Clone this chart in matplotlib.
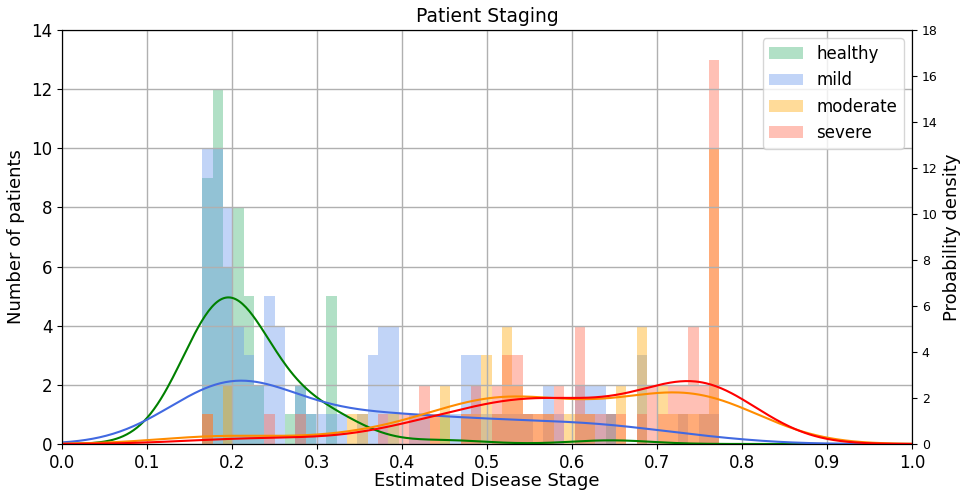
import numpy as np
import matplotlib
matplotlib.use("Agg")
import matplotlib.pyplot as plt

# ---- data (counts per histogram bin, 50 equal bins over the data range) ----
stage_range = [0.165, 0.7733]
categories = ["healthy", "mild", "moderate", "severe"]
healthy_counts = [9, 12, 6, 8, 5, 2, 0, 0, 1, 2, 1, 0, 5, 0, 0, 0, 0, 0, 0, 0,
                  0, 0, 0, 1, 0, 0, 0, 0, 0, 0, 0, 0, 0, 0, 0, 0, 0, 0, 0, 1,
                  0, 0, 0, 0, 0, 0, 0, 0, 0, 0]
mild_counts = [10, 10, 8, 4, 3, 2, 5, 4, 0, 2, 1, 1, 1, 1, 0, 1, 3, 4, 4, 0,
               1, 1, 0, 0, 1, 3, 3, 1, 1, 1, 1, 1, 0, 2, 1, 0, 2, 2, 2, 1,
               0, 0, 3, 0, 0, 0, 1, 0, 1, 1]
moderate_counts = [1, 0, 2, 0, 0, 0, 0, 0, 0, 0, 0, 0, 0, 0, 1, 1, 0, 0, 1, 0,
                   0, 0, 1, 2, 0, 1, 1, 3, 1, 4, 2, 1, 1, 1, 0, 1, 1, 1, 0, 0,
                   2, 0, 4, 0, 2, 1, 1, 1, 1, 10]
severe_counts = [1, 0, 0, 0, 0, 0, 1, 0, 0, 1, 0, 0, 0, 0, 0, 0, 0, 1, 0, 1,
                 1, 2, 1, 0, 0, 1, 2, 0, 2, 3, 3, 1, 1, 1, 2, 0, 4, 1, 1, 1,
                 1, 0, 1, 2, 1, 2, 2, 4, 2, 13]
kde_bw_adjust = [1.3, 1.0, 1.0, 1.0]
hist_colors = ["mediumseagreen", "cornflowerblue", "orange", "tomato"]
kde_colors = ["green", "royalblue", "darkorange", "red"]
x_ticks = [0.0, 0.1, 0.2, 0.3, 0.4, 0.5, 0.6, 0.7, 0.8, 0.9, 1.0]
left_ticks = [0, 2, 4, 6, 8, 10, 12, 14]
right_ticks = [0, 2, 4, 6, 8, 10, 12, 14, 16, 18]

all_counts = [healthy_counts, mild_counts, moderate_counts, severe_counts]
n_bins = len(healthy_counts)
edges = np.linspace(stage_range[0], stage_range[1], n_bins + 1)
centers = 0.5 * (edges[:-1] + edges[1:])
samples = [np.repeat(centers, c) for c in all_counts]


def gaussian_kde(data, grid, adjust=1.0):
    n = len(data)
    h = adjust * np.std(data, ddof=1) * n ** (-1.0 / 5.0)
    z = (grid[:, None] - data[None, :]) / h
    return np.exp(-0.5 * z ** 2).sum(axis=1) / (n * h * np.sqrt(2 * np.pi))


fig = plt.figure(figsize=(9.61, 4.93), dpi=100)
ax = fig.add_axes([0.0645, 0.0994, 0.8845, 0.8396])

for s, c, lab in zip(samples, hist_colors, categories):
    ax.hist(s, bins=edges, color=c, alpha=0.4, label=lab)

ax.set_xlim(0, 1)
ax.set_ylim(0, 14)
ax.set_xticks(x_ticks)
ax.set_yticks(left_ticks)
ax.tick_params(axis="both", labelsize=12)
ax.grid(True, color="#b0b0b0", linewidth=1)
ax.set_xlabel("Estimated Disease Stage", fontsize=13, labelpad=0)
ax.set_ylabel("Number of patients", fontsize=13)
ax.set_title("Patient Staging", fontsize=13.5)
ax.legend(loc="upper right", fontsize=12)

ax2 = ax.twinx()
grid = np.linspace(0, 1, 500)
for s, c, a in zip(samples, kde_colors, kde_bw_adjust):
    ax2.plot(grid, gaussian_kde(s, grid, a), color=c, linewidth=1.5)
ax2.set_ylim(0, 18)
ax2.set_yticks(right_ticks)
ax2.tick_params(axis="y", labelsize=9)
ax2.set_ylabel("Probability density", fontsize=13)

fig.savefig("out.png", dpi=100)
